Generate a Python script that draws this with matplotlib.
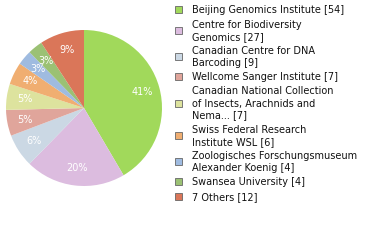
import numpy as np
import matplotlib.pyplot as plt
from matplotlib.patches import Rectangle

labels = [
    "Beijing Genomics Institute [54]",
    "Centre for Biodiversity\nGenomics [27]",
    "Canadian Centre for DNA\nBarcoding [9]",
    "Wellcome Sanger Institute [7]",
    "Canadian National Collection\nof Insects, Arachnids and\nNema... [7]",
    "Swiss Federal Research\nInstitute WSL [6]",
    "Zoologisches Forschungsmuseum\nAlexander Koenig [4]",
    "Swansea University [4]",
    "7 Others [12]",
]
counts = [54, 27, 9, 7, 7, 6, 4, 4, 12]
colors = ["#a1d95b", "#dcbcdf", "#cbd8e4", "#e0a59b", "#dde39e",
          "#f0ae71", "#9fbbe0", "#9bc174", "#da7659"]

W, H = 380, 240
fig = plt.figure(figsize=(W / 100, H / 100), dpi=100)

# pie
cx, cy, r = 84, 108, 78
ax = fig.add_axes([(cx - r) / W, (H - cy - r) / H, 2 * r / W, 2 * r / H])
wedges, _, autotexts = ax.pie(
    counts, colors=colors, startangle=90, counterclock=False,
    autopct=lambda p: f"{int(np.floor(p))}%", pctdistance=0.77,
    wedgeprops=dict(linewidth=0),
    textprops=dict(color="white", fontsize=7, family="DejaVu Sans"),
)
ax.set_xlim(-1, 1)
ax.set_ylim(-1, 1)
ax.set_aspect("equal")

# legend, one text per line so baselines can be placed by pixel
line_h = 12.0
gap = 2.3
base = 13.3
for lab, col in zip(labels, colors):
    lines = lab.split("\n")
    bases = [base + i * line_h for i in range(len(lines))]
    sq = np.mean(bases) - 3.5
    fig.patches.append(Rectangle((174.5 / W, 1 - (sq + 3.5) / H), 7 / W, 7 / H,
                                 transform=fig.transFigure, facecolor=col,
                                 edgecolor="#666666", linewidth=0.6))
    for ln, b in zip(lines, bases):
        fig.text(192 / W, 1 - b / H, ln, fontsize=7, va="baseline", ha="left",
                 color="#111111", family="DejaVu Sans")
    base = bases[-1] + line_h + gap

fig.savefig("out.png", dpi=100)
